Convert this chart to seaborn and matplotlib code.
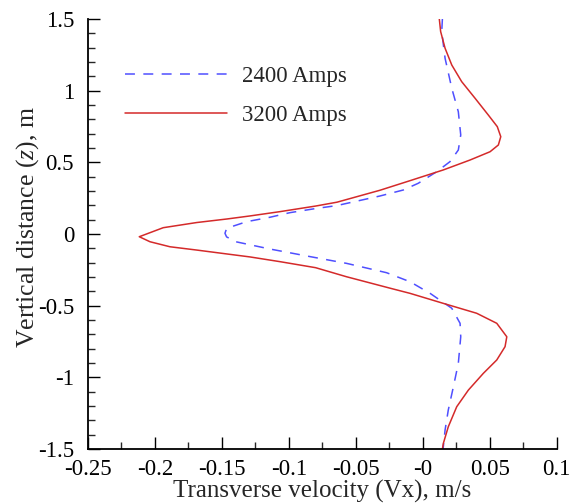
import numpy as np
import pandas as pd
import matplotlib
matplotlib.use("Agg")
import matplotlib.pyplot as plt
import seaborn as sns
from matplotlib.ticker import MultipleLocator

# ---- data, ordered from top (z=1.5) to bottom (z=-1.5) ----
z_2400 = [1.5, 1.412, 1.226, 1.017, 0.853, 0.691, 0.586, 0.505, 0.435, 0.354,
          0.307, 0.265, 0.198, 0.179, 0.149, 0.117, 0.086, 0.04, 0.005, -0.02,
          -0.054, -0.105, -0.118, -0.158, -0.205, -0.27, -0.333, -0.414, -0.518,
          -0.623, -0.717, -0.902, -1.066, -1.228, -1.368, -1.484, -1.5]
vx_2400 = [0.0147, 0.0142, 0.0167, 0.0217, 0.0266, 0.0284, 0.0266, 0.0204, 0.0105, -0.0033,
           -0.0145, -0.032, -0.0643, -0.079, -0.0991, -0.114, -0.1315, -0.1464, -0.1477, -0.1465,
           -0.1396, -0.114, -0.1066, -0.084, -0.0568, -0.027, -0.0095, 0.0055, 0.0217,
           0.0279, 0.0284, 0.0266, 0.0229, 0.0191, 0.0167, 0.0154, 0.0152]

z_3200 = [1.5, 1.412, 1.296, 1.179, 1.063, 0.947, 0.830, 0.749, 0.679, 0.621,
          0.574, 0.516, 0.447, 0.372, 0.305, 0.222, 0.195, 0.156, 0.126, 0.105,
          0.080, 0.044, -0.019, -0.054, -0.089, -0.112, -0.142, -0.16, -0.193,
          -0.235, -0.298, -0.379, -0.414, -0.484, -0.553, -0.623, -0.717, -0.786,
          -0.879, -0.972, -1.089, -1.205, -1.345, -1.461, -1.5]
vx_3200 = [0.0124, 0.0134, 0.0167, 0.0217, 0.0291, 0.0391, 0.049, 0.0557, 0.0583, 0.0565,
           0.0503, 0.0353, 0.0154, -0.0095, -0.032, -0.064, -0.080, -0.1066, -0.129, -0.146,
           -0.1688, -0.1938, -0.2117, -0.2037, -0.1888, -0.1688, -0.144, -0.129, -0.1066,
           -0.080, -0.057, -0.024, -0.0095, 0.0154, 0.0403, 0.0553, 0.0628, 0.0615,
           0.0553, 0.0453, 0.0341, 0.0254, 0.0191, 0.0154, 0.0147]

label_2400 = "2400 Amps"
label_3200 = "3200 Amps"
xlabel = "Transverse velocity (Vx), m/s"
ylabel = "Vertical distance ($z$), m"

df24 = pd.DataFrame({"vx": vx_2400, "z": z_2400})
df32 = pd.DataFrame({"vx": vx_3200, "z": z_3200})

sns.set_style("ticks")
plt.rcParams["font.family"] = ["Liberation Serif", "DejaVu Serif"]
plt.rcParams["mathtext.fontset"] = "custom"
plt.rcParams["mathtext.rm"] = "Liberation Serif"
plt.rcParams["mathtext.it"] = "Liberation Serif:italic"

fig = plt.figure(figsize=(5.72, 5.04), dpi=100)
ax = fig.add_axes([88 / 572, 1 - 449 / 504, (556.6 - 88) / 572, (449 - 19) / 504])

blue = "#4f4fff"
red = "#d42a2a"
sns.lineplot(data=df24, x="vx", y="z", sort=False, estimator=None, ax=ax,
             color=blue, linewidth=1.1, linestyle=(0, (6.5, 5.5)), label=label_2400)
sns.lineplot(data=df32, x="vx", y="z", sort=False, estimator=None, ax=ax,
             color=red, linewidth=1.1, label=label_3200)

xt = np.arange(-0.25, 0.1001, 0.05)
ax.set_xticks(xt)
ax.set_xticklabels(["%g" % round(v, 3) for v in xt])
yt = np.arange(-1.5, 1.5001, 0.5)
ax.set_yticks(yt)
ax.set_yticklabels(["%g" % round(v, 2) for v in yt])
ax.xaxis.set_minor_locator(MultipleLocator(0.025))
ax.yaxis.set_minor_locator(MultipleLocator(0.1))
ax.set_xlim(-0.25, 0.1)
ax.set_ylim(-1.5, 1.5)

ax.tick_params(which="major", direction="in", length=8.5, width=1.0, labelsize=16.5,
               colors="black")
ax.tick_params(axis="x", which="major", pad=7)
ax.tick_params(axis="y", which="major", pad=10)
ax.tick_params(which="minor", direction="in", length=5, width=1.0)
for s in ["top", "right"]:
    ax.spines[s].set_visible(False)
for s in ["left", "bottom"]:
    ax.spines[s].set_linewidth(1.3)
    ax.spines[s].set_color("black")

ax.set_xlabel(xlabel, fontsize=18, labelpad=0)
ax.set_ylabel(ylabel, fontsize=18.5, labelpad=-2.5)
ax.yaxis.label.set_y(0.515)

leg = ax.legend(loc="upper left", bbox_to_anchor=(125 / 572, 1 - 66 / 504),
                bbox_transform=fig.transFigure, frameon=False, fontsize=16.5,
                handlelength=4.45, handletextpad=0.65, labelspacing=0.78,
                borderpad=0, borderaxespad=0)

fig.savefig("out.png", dpi=100)
